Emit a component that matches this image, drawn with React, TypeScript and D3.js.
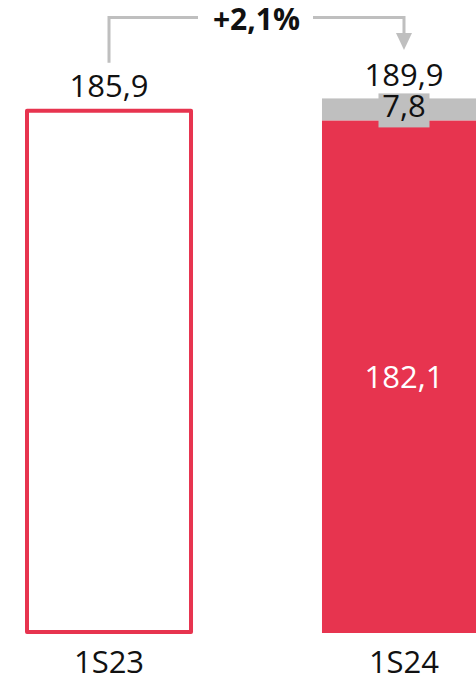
import React from 'react'
import * as d3 from 'd3'

// data
const periods = ['1S23', '1S24']
const baseValues = [185.9, 182.1]
const extraValues = [0, 7.8]
const totals = [185.9, 189.9]
const changeLabel = '+2,1%'

const fmt = (v: number) => d3.format('.1f')(v).replace('.', ',')

const RED = '#e7344f'
const GRAY = '#bfbfbf'
const FONT = '"Open Sans", sans-serif'

const App = () => {
  const width = 476
  const height = 676

  const x = d3.scaleBand()
    .domain(periods)
    .range([27, 486])
    .paddingInner(0.444)
    .paddingOuter(0)

  var y = d3.scaleLinear()
    .domain([0, 190])
    .range([633, 633 - 190 * 2.815])

  const bw = x.bandwidth()
  const cx = (p: string) => (x(p) as number) + bw / 2

  const x1 = cx(periods[0])
  const x2 = cx(periods[1])
  const topY = y(d3.max(totals) as number) - 81

  return (
    <svg width={width} height={height} style={{position: 'absolute', left: 0, top: 0}}>
      {/* 1S23: outline bar */}
      <rect x={x(periods[0])} y={y(baseValues[0]) + 1} width={bw} height={y(0) - y(baseValues[0]) - 2}
        fill="none" stroke={RED} strokeWidth={4} strokeLinejoin="round" />

      {/* 1S24: stacked bar */}
      <rect x={x(periods[1])} y={y(baseValues[1])} width={bw} height={y(0) - y(baseValues[1])} fill={RED} />
      <rect x={x(periods[1])} y={y(totals[1])} width={bw} height={y(baseValues[1]) - y(totals[1])} fill={GRAY} />

      {/* value labels */}
      <text x={x2} y={(y(baseValues[1]) + y(0)) / 2 + 11} textAnchor="middle" fontFamily={FONT} fontSize={31} fill="#fff">
        {fmt(baseValues[1])}
      </text>
      <rect x={x2 - 25.5} y={(y(totals[1]) + y(baseValues[1])) / 2 - 16} width={51} height={34} fill={GRAY} />
      <text x={x2} y={(y(totals[1]) + y(baseValues[1])) / 2 + 8} textAnchor="middle" fontFamily={FONT} fontSize={31} fill="#111">
        {fmt(extraValues[1])}
      </text>
      {periods.map((p, i) => (
        <text key={'t' + p} x={cx(p)} y={y(totals[i]) - 12.5} textAnchor="middle" fontFamily={FONT} fontSize={31} fill="#111">
          {fmt(totals[i])}
        </text>
      ))}

      {/* category labels */}
      {periods.map(p => (
        <text key={p} x={cx(p)} y={y(0) + 40} textAnchor="middle" fontFamily={FONT} fontSize={31} fill="#111">{p}</text>
      ))}

      {/* change connector */}
      <path d={`M${x1},${y(totals[0]) - 47} V${topY} H198`} fill="none" stroke={GRAY} strokeWidth={3} />
      <path d={`M313,${topY} H${x2} V${topY + 16}`} fill="none" stroke={GRAY} strokeWidth={3} />
      <path d={`M${x2 - 8},${topY + 15.5} L${x2 + 8},${topY + 15.5} L${x2},${topY + 32.5} Z`} fill={GRAY} />
      <text x={(x1 + x2) / 2} y={30} textAnchor="middle" fontFamily={FONT} fontWeight="bold" fontSize={30} fill="#111">
        {changeLabel}
      </text>
    </svg>
  )
}

export default App
